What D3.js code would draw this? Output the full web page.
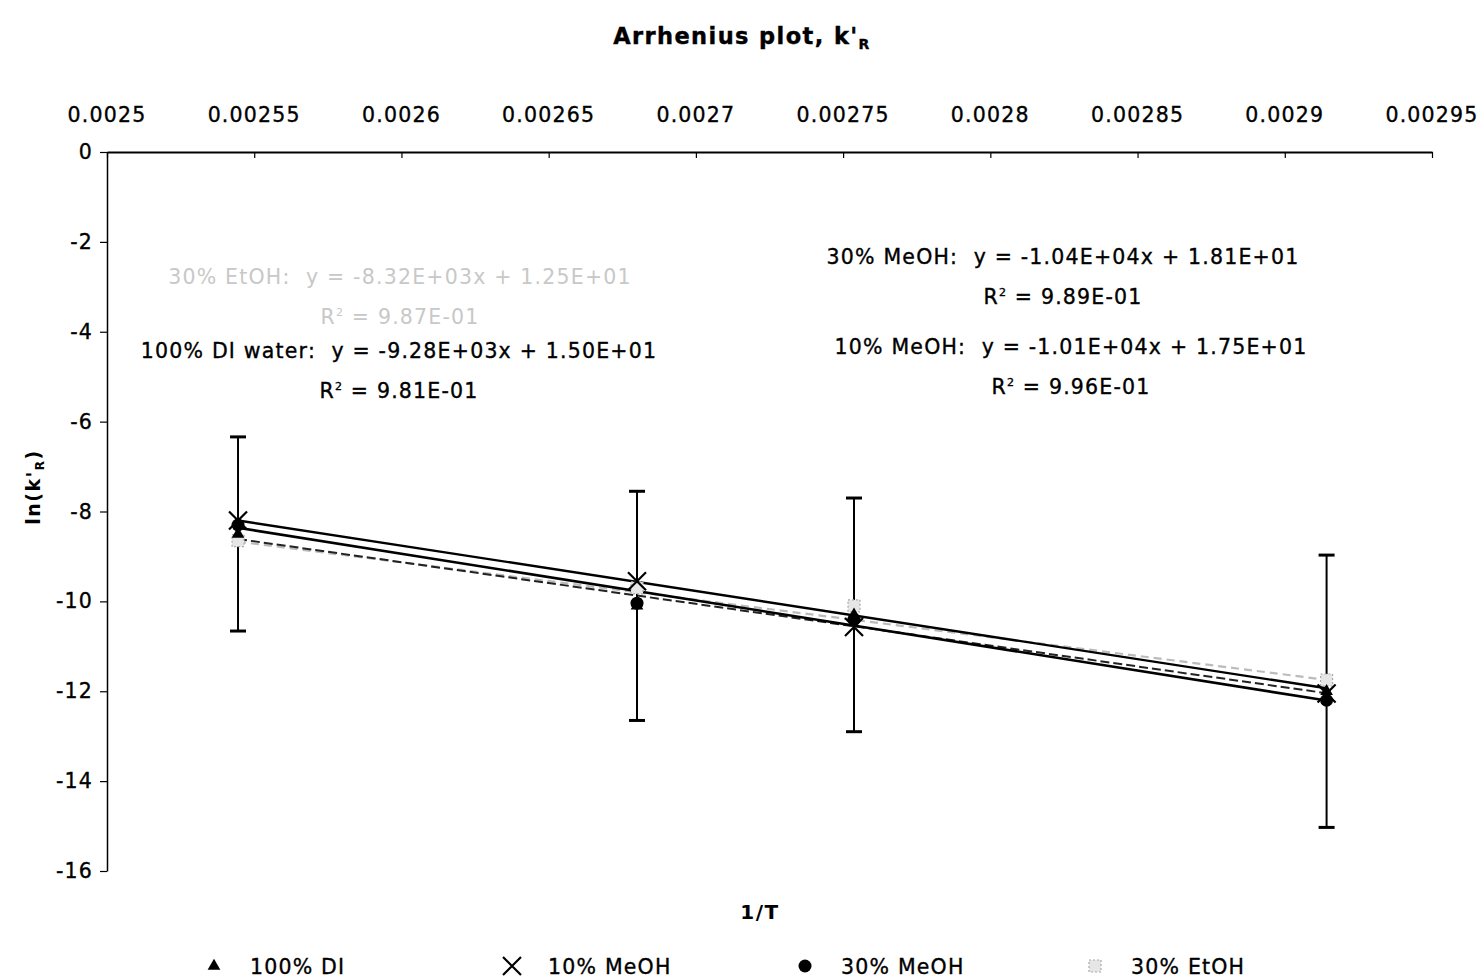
<!DOCTYPE html>
<html><head><meta charset="utf-8">
<script src="https://cdn.jsdelivr.net/npm/d3@7/dist/d3.min.js"></script>
<style>body{margin:0;background:#fff}svg{display:block}</style>
</head><body><svg id="c" width="1484" height="979"></svg>
<script>
const invT = [0.0025445, 0.00268, 0.0027537, 0.0029142];
const di   = [-8.5, -10.1, -10.3, -12.0];
const diErr = [2.16, 2.55, 2.6, 3.03];
const meoh10 = [-8.2, -9.55, -10.57, -12.05];
const meoh30 = [-8.3, -10.04, -10.4, -12.2];
const etoh30 = [-8.65, -9.7, -10.1, -11.75];
const xTicks = [0.0025, 0.00255, 0.0026, 0.00265, 0.0027, 0.00275, 0.0028, 0.00285, 0.0029, 0.00295];
const xTickLabels = ["0.0025","0.00255","0.0026","0.00265","0.0027","0.00275","0.0028","0.00285","0.0029","0.00295"];
const yTicks = [0, -2, -4, -6, -8, -10, -12, -14, -16];
const seriesNames = ["100% DI", "10% MeOH", "30% MeOH", "30% EtOH"];
const slopes = [-9.28e3, -1.01e4, -1.04e4, -8.32e3];
const intercepts = [15.0, 17.5, 18.1, 12.5];
const eqText = [
  ["100% DI water:\u00a0 y = -9.28E+03x + 1.50E+01", "9.81E-01"],
  ["10% MeOH:\u00a0 y = -1.01E+04x + 1.75E+01", "9.96E-01"],
  ["30% MeOH:\u00a0 y = -1.04E+04x + 1.81E+01", "9.89E-01"],
  ["30% EtOH:\u00a0 y = -8.32E+03x + 1.25E+01", "9.87E-01"]
];

const svg = d3.select("#c");
const font = "DejaVu Sans, Verdana, sans-serif";
const FS = 20.5, LS = 1.2, SW = 0.35;
const x = d3.scaleLinear().domain([0.0025, 0.00295]).range([107, 1432]);
const y = d3.scaleLinear().domain([0, -16]).range([152, 871]);

// title
const t = svg.append("text").attr("x", 742).attr("y", 44).attr("text-anchor","middle")
  .attr("font-family", font).attr("font-weight","bold").attr("font-size", 22.5).attr("letter-spacing", 1.4)
  .attr("stroke","#000").attr("stroke-width",0.4);
t.append("tspan").text("Arrhenius plot, k'");
t.append("tspan").attr("font-size", 14).attr("dy", 5).text("R");

// x axis (top)
const xa = svg.append("g").attr("transform","translate(0,152)")
  .call(d3.axisBottom(x).tickValues(xTicks).tickFormat("").tickSize(6).tickSizeOuter(0));
xa.select(".domain").attr("stroke","#000").attr("stroke-width",2);
xa.selectAll(".tick line").attr("stroke","#000").attr("stroke-width",1.2);
svg.append("g").selectAll("text").data(xTicks).join("text")
  .attr("x", d => x(d)).attr("y", 122).attr("text-anchor","middle")
  .attr("font-family", font).attr("font-size", FS).attr("letter-spacing", LS)
  .attr("stroke","#000").attr("stroke-width",SW)
  .text((d,i) => xTickLabels[i]);

// y axis
const ya = svg.append("g").attr("transform","translate(107,0)")
  .call(d3.axisLeft(y).tickValues(yTicks).tickFormat(d => String(d)).tickSize(7).tickSizeOuter(0));
ya.select(".domain").attr("stroke","#000").attr("stroke-width",1.5);
ya.selectAll(".tick line").attr("stroke","#000").attr("stroke-width",1.2);
ya.selectAll(".tick text").attr("font-family", font).attr("font-size", FS).attr("letter-spacing", LS)
  .attr("stroke","#000").attr("stroke-width",SW).attr("x", -14).attr("fill","#000");

// axis titles
const yl = svg.append("text").attr("transform","translate(40,487) rotate(-90)").attr("text-anchor","middle")
  .attr("font-family", font).attr("font-weight","bold").attr("font-size", 19).attr("letter-spacing", 1.5);
yl.append("tspan").text("ln(k'");
yl.append("tspan").attr("font-size", 12).attr("dy", 4).text("R");
yl.append("tspan").attr("dy", -4).text(")");
svg.append("text").attr("x", 760).attr("y", 919).attr("text-anchor","middle")
  .attr("font-family", font).attr("font-weight","bold").attr("font-size", 20).attr("letter-spacing", 1.5).text("1/T");

// trendlines
const x0 = invT[0], x1 = invT[invT.length-1];
const trendStyle = [
  {c:"#222", w:2, d:"9,4"},
  {c:"#000", w:2.4, d:null},
  {c:"#000", w:2.6, d:null},
  {c:"#bbb", w:2.2, d:"8,5"}
];
[3,0,1,2].forEach(i => {
  svg.append("line")
    .attr("x1", x(x0)).attr("y1", y(slopes[i]*x0 + intercepts[i]))
    .attr("x2", x(x1)).attr("y2", y(slopes[i]*x1 + intercepts[i]))
    .attr("stroke", trendStyle[i].c).attr("stroke-width", trendStyle[i].w)
    .attr("stroke-dasharray", trendStyle[i].d);
});

// error bars on 100% DI
const eb = svg.append("g").attr("stroke","#000").attr("stroke-width",2);
invT.forEach((v,i) => {
  const xx = x(v), yt = y(di[i] + diErr[i]), yb = y(di[i] - diErr[i]);
  eb.append("line").attr("x1",xx).attr("x2",xx).attr("y1",yt).attr("y2",yb);
  eb.append("line").attr("x1",xx-8).attr("x2",xx+8).attr("y1",yt).attr("y2",yt).attr("stroke-width",3);
  eb.append("line").attr("x1",xx-8).attr("x2",xx+8).attr("y1",yb).attr("y2",yb).attr("stroke-width",3);
});

// markers
function drawMarker(g, type, cx, cy) {
  if (type === 0) {
    g.append("path").attr("d", d3.symbol(d3.symbolTriangle, 70)()).attr("transform",`translate(${cx},${cy})`).attr("fill","#000");
  } else if (type === 1) {
    g.append("path").attr("d", `M${cx-9},${cy-9}L${cx+9},${cy+9}M${cx-9},${cy+9}L${cx+9},${cy-9}`)
      .attr("stroke","#000").attr("stroke-width",2.2).attr("fill","none");
  } else if (type === 2) {
    g.append("circle").attr("cx",cx).attr("cy",cy).attr("r",6.5).attr("fill","#000");
  } else {
    g.append("rect").attr("x",cx-6).attr("y",cy-6).attr("width",12).attr("height",12)
      .attr("fill","#e6e6e6").attr("stroke","#aaa").attr("stroke-width",1.2).attr("stroke-dasharray","2,2");
  }
}
const series = [di, meoh10, meoh30, etoh30];
const mg = svg.append("g");
[3,0,2,1].forEach(si => {
  series[si].forEach((v,i) => drawMarker(mg, si, x(invT[i]), y(v)));
});

// equations
function eq(cx, cy, txt, r2, color, sw) {
  const g = svg.append("g").attr("font-family", font).attr("font-size", FS).attr("letter-spacing", LS)
    .attr("fill", color).attr("stroke", color).attr("stroke-width", sw).attr("text-anchor","middle");
  g.append("text").attr("x", cx).attr("y", cy).text(txt);
  const r = g.append("text").attr("x", cx).attr("y", cy + 40);
  r.append("tspan").text("R");
  r.append("tspan").attr("font-size", 11).attr("dy", -8).text("2");
  r.append("tspan").attr("dy", 8).text(" = " + r2);
}
eq(400, 284, eqText[3][0], eqText[3][1], "#c8c8c8", 0);
eq(399, 358, eqText[0][0], eqText[0][1], "#000", SW);
eq(1063, 264, eqText[2][0], eqText[2][1], "#000", SW);
eq(1071, 354, eqText[1][0], eqText[1][1], "#000", SW);

// legend
const legX = [214, 512, 805, 1095];
const lg = svg.append("g");
seriesNames.forEach((n,i) => {
  drawMarker(lg, i, legX[i], 966);
  lg.append("text").attr("x", legX[i] + 36).attr("y", 974).attr("font-family", font)
    .attr("font-size", FS).attr("letter-spacing", LS).attr("stroke","#000").attr("stroke-width",SW).text(n);
});
</script></body></html>
